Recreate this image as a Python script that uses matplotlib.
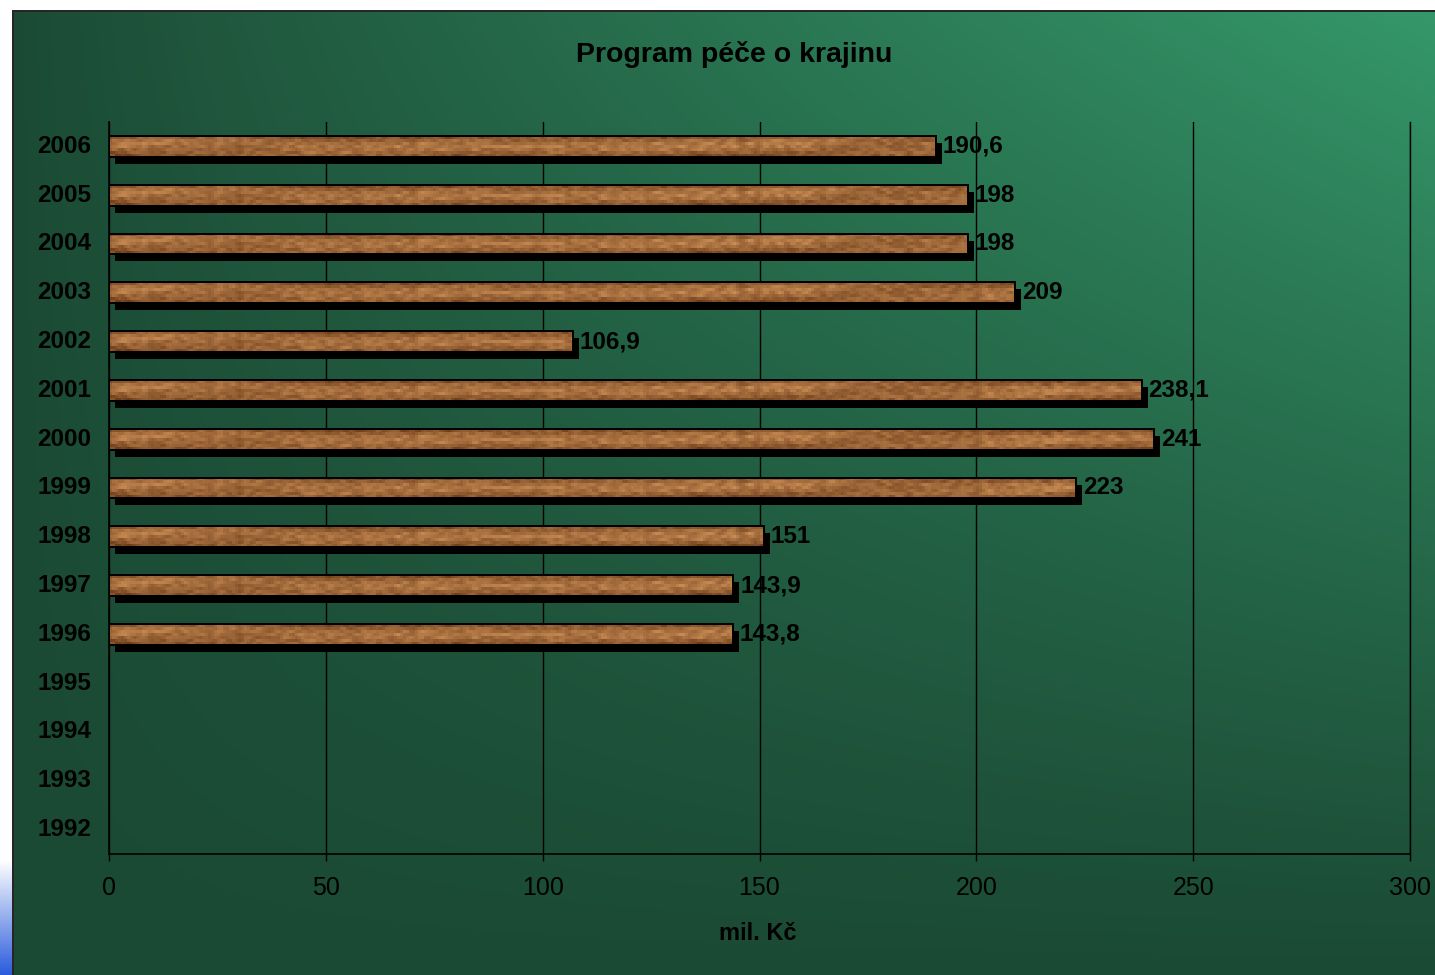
import numpy as np
import matplotlib
matplotlib.use("Agg")
import matplotlib.pyplot as plt
from matplotlib.transforms import ScaledTranslation

plt.rcParams['font.family'] = ['Liberation Sans', 'DejaVu Sans']

# ---------------- data ----------------
years = ["1992", "1993", "1994", "1995", "1996", "1997", "1998", "1999",
         "2000", "2001", "2002", "2003", "2004", "2005", "2006"]
values = [None, None, None, None, 143.8, 143.9, 151, 223,
          241, 238.1, 106.9, 209, 198, 198, 190.6]
xticks = [0, 50, 100, 150, 200, 250, 300]
title = "Program péče o krajinu"
xlabel = "mil. Kč"

W, H = 1435, 975
fig = plt.figure(figsize=(W / 100, H / 100), dpi=100)

# ---------------- background ----------------
bg = np.ones((H, W, 3))
x0, y0 = 12, 10
yy, xx = np.mgrid[0:H, 0:W].astype(float)
xn = np.clip((xx - x0) / (W - x0), 0, 1)
yn = np.clip((yy - y0) / (H - y0), 0, 1)
t = (xn ** 0.9) * ((1 - yn) ** 1.1)
dark = np.array([27, 74, 52]) / 255
light = np.array([53, 152, 106]) / 255
grad = dark[None, None, :] * (1 - t[..., None]) + light[None, None, :] * t[..., None]
mask = (xx >= x0) & (yy >= y0)
bg[mask] = grad[mask]
bg[y0:y0 + 2, x0:, :] = 0.15
bg[y0:, x0:x0 + 2, :] = 0.15
blue = np.array([40, 90, 220]) / 255
for r in range(860, H):
    s = (r - 860) / (H - 860)
    bg[r, 0:x0, :] = np.ones(3) * (1 - s) + blue * s

bgax = fig.add_axes([0, 0, 1, 1], zorder=-5)
bgax.imshow(bg, aspect='auto', extent=(0, 1, 0, 1), interpolation='nearest')
bgax.set_axis_off()

# ---------------- main axes ----------------
left, right, top, bottom = 109, 1410, 122, 854
ax = fig.add_axes([left / W, 1 - bottom / H, (right - left) / W, (bottom - top) / H])
ax.patch.set_alpha(0)

ypos = np.arange(len(years))
bh = 0.43

# wood texture (deterministic hash noise, blocky)
ty, tx = np.mgrid[0:7, 0:434].astype(float)
h = np.sin(tx * 12.9898 + ty * 78.233) * 43758.5453
h = h - np.floor(h)
k = np.array([0.25, 0.5, 0.25])
hs = np.array([np.convolve(row, k, mode='same') for row in h])
prof = np.array([0.30, 0.45, 0.55, 0.58, 0.52, 0.42, 0.30])[:, None]
streak = 0.12 * np.sin(tx * 0.045 + ty * 0.8) * np.sin(tx * 0.013 + 1.3)
tv = np.clip(prof + 0.55 * (hs - 0.5) + streak, 0, 1)
wd = np.array([105, 58, 24]) / 255
wl = np.array([218, 155, 95]) / 255
tex = wd[None, None, :] * (1 - tv[..., None]) + wl[None, None, :] * tv[..., None]

shadow_tr = ax.transData + ScaledTranslation(6 / 100, -7 / 100, fig.dpi_scale_trans)

for y, v in zip(ypos, values):
    if v is None:
        continue
    ax.barh(y, v, height=bh, color='black', zorder=2, transform=shadow_tr)
    bars = ax.barh(y, v, height=bh, color='#a86a36', zorder=3)
    patch = bars.patches[0]
    im = ax.imshow(tex, extent=(0, 300, y - bh / 2, y + bh / 2), aspect='auto',
                   interpolation='nearest', zorder=3.1, origin='upper')
    im.set_clip_path(patch)
    ax.barh(y, v, height=bh, facecolor='none', edgecolor='black', linewidth=1.4, zorder=3.2)
    lbl = ("%g" % v).replace('.', ',')
    ax.annotate(lbl, (v, y), xytext=(7, 0), textcoords='offset pixels',
                va='center', ha='left', fontsize=17.5, fontweight='bold', color='black',
                zorder=4)

ax.set_xlim(0, 300)
ax.set_ylim(-0.5, len(years) - 0.5)
ax.set_xticks(xticks)
ax.set_xticklabels([str(v) for v in xticks], fontsize=18)
ax.set_yticks(ypos)
ax.set_yticklabels(years, fontsize=17.5, fontweight='bold')
for lab in ax.get_yticklabels():
    lab.set_va('center')
ax.tick_params(axis='x', direction='out', length=5, width=1, color='black', pad=11)
ax.tick_params(axis='y', length=0, pad=13)
ax.set_axisbelow(True)
ax.grid(axis='x', color='black', linewidth=1)
ax.grid(axis='y', visible=False)
ax.spines['top'].set_visible(False)
ax.spines['right'].set_color('black')
ax.spines['right'].set_linewidth(1)
for s in ['left', 'bottom']:
    ax.spines[s].set_color('black')
    ax.spines[s].set_linewidth(1.2)

fig.text(734 / W, 1 - 55 / H, title, ha='center', va='center',
         fontsize=20.5, fontweight='bold', color='black')
fig.text(758 / W, 1 - 934 / H, xlabel, ha='center', va='center',
         fontsize=17, fontweight='bold', color='black')

fig.savefig("out.png", dpi=100)
